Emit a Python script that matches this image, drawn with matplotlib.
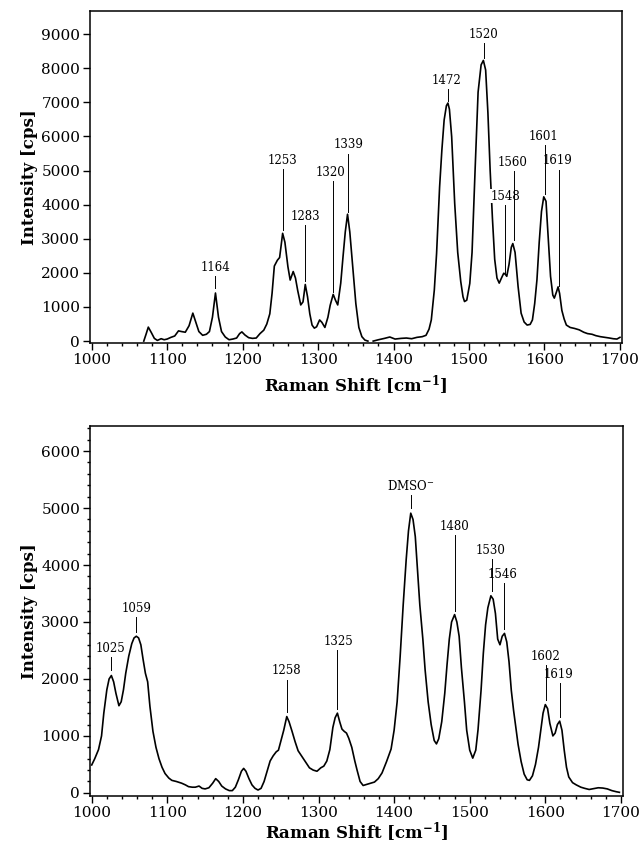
#!/usr/bin/env python3
"""
Two stacked Raman spectra with labelled peak positions.
"""
import matplotlib
matplotlib.use('Agg')
import matplotlib.pyplot as plt
from matplotlib.ticker import MultipleLocator

# --- top spectrum (two segments, gap near 1370 cm-1) ---
top_x1 = [1069, 1072, 1075, 1079, 1083, 1087, 1092, 1096, 1100, 1105, 1110, 1115,
          1119, 1124, 1129, 1134, 1138, 1142, 1147, 1152, 1156, 1160, 1164, 1168,
          1172, 1177, 1182, 1187, 1192, 1196, 1199, 1203, 1208, 1213, 1218, 1223,
          1228, 1232, 1236, 1239, 1242, 1246, 1249, 1251, 1253, 1256, 1260, 1263,
          1267, 1270, 1273, 1277, 1280, 1283, 1286, 1289, 1292, 1295, 1298, 1302,
          1305, 1309, 1313, 1316, 1320, 1323, 1326, 1330, 1333, 1336, 1339, 1342,
          1346, 1350, 1354, 1358, 1362, 1366]
top_y1 = [0, 200, 410, 250, 80, 20, 70, 40, 60, 110, 150, 300,
          280, 260, 450, 820, 550, 280, 170, 200, 280, 700, 1410, 700,
          280, 120, 40, 60, 90, 220, 270, 180, 100, 80, 90, 220,
          320, 500, 800, 1400, 2200, 2370, 2450, 2800, 3160, 2900, 2180, 1790,
          2040, 1850, 1480, 1060, 1150, 1660, 1300, 800, 470, 380, 420, 620,
          550, 400, 700, 1050, 1370, 1200, 1060, 1700, 2470, 3200, 3720, 3200,
          2150, 1100, 400, 130, 30, 0]

top_x2 = [1373, 1380, 1388, 1395, 1402, 1410, 1417, 1424, 1431, 1438, 1443, 1447,
          1450, 1454, 1457, 1461, 1464, 1467, 1470, 1472, 1474, 1477, 1481, 1485,
          1489, 1492, 1494, 1497, 1501, 1504, 1508, 1512, 1516, 1519, 1522, 1525,
          1528, 1531, 1534, 1537, 1540, 1543, 1546, 1548, 1550, 1553, 1556, 1558,
          1561, 1565, 1569, 1573, 1577, 1581, 1584, 1587, 1590, 1593, 1596, 1599,
          1602, 1605, 1608, 1611, 1613, 1616, 1618, 1620, 1623, 1626, 1629, 1634,
          1640, 1646, 1652, 1657, 1663, 1668, 1674, 1680, 1686, 1691, 1696, 1700]
top_y2 = [0, 40, 80, 120, 60, 80, 90, 70, 110, 130, 170, 350,
          620, 1500, 2570, 4520, 5600, 6480, 6900, 6980, 6800, 5990, 4040, 2600,
          1750, 1300, 1160, 1200, 1690, 2600, 5000, 7300, 8100, 8230, 7950, 6700,
          5000, 3600, 2400, 1850, 1700, 1850, 1990, 1960, 1900, 2250, 2750, 2860,
          2600, 1600, 820, 560, 470, 490, 620, 1100, 1800, 2900, 3800, 4230,
          4100, 3000, 1900, 1350, 1260, 1450, 1590, 1400, 900, 650, 470, 400,
          370, 330, 260, 220, 200, 160, 130, 110, 90, 70, 60, 110]

# --- bottom spectrum ---
bot_x = [1000, 1004, 1009, 1013, 1016, 1020, 1023, 1026, 1029, 1032, 1036, 1039,
         1042, 1045, 1049, 1053, 1056, 1059, 1062, 1065, 1068, 1071, 1074, 1077,
         1081, 1085, 1089, 1093, 1097, 1102, 1106, 1112, 1119, 1124, 1128, 1133,
         1137, 1142, 1146, 1150, 1155, 1160, 1164, 1168, 1172, 1177, 1182, 1186,
         1190, 1194, 1198, 1201, 1204, 1208, 1212, 1216, 1220, 1224, 1228, 1232,
         1236, 1240, 1244, 1247, 1250, 1254, 1258, 1261, 1265, 1269, 1273, 1278,
         1283, 1288, 1293, 1298, 1303, 1307, 1311, 1315, 1319, 1322, 1325, 1328,
         1331, 1334, 1337, 1340, 1344, 1348, 1351, 1355, 1359, 1364, 1369, 1374,
         1379, 1384, 1390, 1396, 1400, 1404, 1408, 1412, 1416, 1419, 1422, 1425,
         1428, 1431, 1434, 1438, 1441, 1445, 1449, 1453, 1456, 1459, 1463, 1467,
         1470, 1473, 1476, 1480, 1483, 1486, 1489, 1493, 1496, 1500, 1504, 1508,
         1511, 1515, 1518, 1521, 1524, 1528, 1531, 1534, 1537, 1540, 1543, 1546,
         1549, 1552, 1555, 1558, 1561, 1564, 1568, 1572, 1576, 1579, 1583, 1587,
         1591, 1594, 1597, 1600, 1603, 1606, 1610, 1613, 1616, 1619, 1622, 1625,
         1628, 1631, 1636, 1641, 1647, 1652, 1658, 1664, 1670, 1676, 1682, 1688,
         1694, 1698]
bot_y = [490, 600, 760, 1000, 1400, 1810, 2000, 2060, 1950, 1750, 1530, 1600,
         1810, 2100, 2400, 2620, 2720, 2750, 2720, 2600, 2340, 2100, 1950, 1520,
         1080, 800, 600, 450, 340, 260, 220, 200, 170, 140, 110, 100,
         100, 120, 80, 70, 90, 170, 250, 200, 120, 70, 40, 40,
         100, 230, 380, 430, 380, 250, 140, 80, 50, 80, 200, 380,
         560, 650, 720, 750, 900, 1100, 1340, 1250, 1080, 900, 740, 640,
         540, 440, 400, 380, 440, 470, 560, 760, 1150, 1320, 1400, 1250,
         1120, 1080, 1050, 960, 800, 560, 400, 200, 130, 150, 170, 190,
         250, 350, 550, 770, 1100, 1600, 2400, 3300, 4100, 4600, 4910, 4800,
         4500, 3900, 3300, 2700, 2160, 1600, 1200, 920, 860, 950, 1250, 1750,
         2250, 2700, 3000, 3130, 3000, 2750, 2200, 1600, 1100, 750, 610, 750,
         1110, 1800, 2450, 2950, 3250, 3460, 3400, 3150, 2700, 2600, 2750, 2800,
         2650, 2300, 1800, 1450, 1150, 850, 550, 330, 230, 220, 300, 500,
         800, 1100, 1400, 1550, 1480, 1220, 1000, 1050, 1200, 1260, 1100, 750,
         450, 280, 180, 140, 100, 80, 60, 75, 90, 85, 70, 40,
         20, 10]

# --- peak labels: text, line x, line bottom, line top, text x ---
top_labels = ['1164', '1253', '1283', '1320', '1339', '1472', '1520',
              '1548', '1560', '1601', '1619']
top_line_x = [1164, 1253, 1283, 1320, 1339, 1472, 1520, 1548, 1560, 1601, 1619]
top_line_lo = [1550, 3250, 1750, 1450, 3800, 7050, 8300, 2000, 2950, 4300, 1620]
top_line_hi = [1900, 5050, 3400, 4700, 5500, 7380, 8740, 4000, 4990, 5760, 5030]
top_text_x = [1164, 1253, 1283, 1316, 1340, 1470, 1519, 1548, 1558, 1599, 1617]

bot_labels = ['1025', '1059', '1258', '1325', r'DMSO$^{-}$', '1480', '1530',
              '1546', '1602', '1619']
bot_line_x = [1025, 1059, 1258, 1325, 1422, 1480, 1529, 1546, 1601, 1619]
bot_line_lo = [2150, 2830, 1420, 1470, 5000, 3200, 3540, 2880, 1630, 1340]
bot_line_hi = [2380, 3080, 1990, 2500, 5230, 4520, 4110, 3680, 2250, 1930]
bot_text_x = [1025, 1059, 1258, 1326, 1422, 1480, 1528, 1544, 1600, 1618]

X_LIM = (997.7, 1702.7)


def style_axes(ax, ymax, y_minor=None, xlabelpad=0):
    ax.set_xlim(*X_LIM)
    ax.set_ylim(-55, ymax)
    ax.xaxis.set_major_locator(MultipleLocator(100))
    ax.xaxis.set_minor_locator(MultipleLocator(20))
    ax.yaxis.set_major_locator(MultipleLocator(1000))
    if y_minor:
        ax.yaxis.set_minor_locator(MultipleLocator(y_minor))
    ax.tick_params(which='both', direction='out', top=False, right=False,
                   width=1.0, labelsize=11, pad=2)
    ax.tick_params(which='major', length=5)
    ax.tick_params(which='minor', length=2.5)
    for sp in ax.spines.values():
        sp.set_linewidth(1.1)
    ax.set_xlabel(r'Raman Shift [cm$^{\mathbf{-1}}$]', fontsize=12,
                  fontweight='bold', labelpad=xlabelpad)
    ax.set_ylabel('Intensity [cps]', fontsize=12, fontweight='bold', labelpad=2)


def add_labels(ax, labels, lx, lo, hi, tx):
    for lab, x, y0, y1, xt in zip(labels, lx, lo, hi, tx):
        ax.plot([x, x], [y0, y1], color='black', linewidth=0.7, zorder=4)
        ax.annotate(lab, xy=(xt, y1), xytext=(0, 1.5), textcoords='offset points',
                    ha='center', va='bottom', fontsize=8.5, zorder=3,
                    bbox=dict(boxstyle='square,pad=0.05', fc='white', ec='none'))


def main():
    plt.rcParams['font.family'] = ['DejaVu Serif']
    plt.rcParams['mathtext.fontset'] = 'dejavuserif'

    fig = plt.figure(figsize=(6.39, 8.5), dpi=100)
    ax1 = fig.add_axes([0.1408, 0.5965, 0.8326, 0.3906])
    ax2 = fig.add_axes([0.1408, 0.0635, 0.8341, 0.4353])

    ax1.plot(top_x1, top_y1, color='black', linewidth=1.2, zorder=2)
    ax1.plot(top_x2, top_y2, color='black', linewidth=1.2, zorder=2)
    style_axes(ax1, 9680, xlabelpad=5)
    add_labels(ax1, top_labels, top_line_x, top_line_lo, top_line_hi, top_text_x)

    ax2.plot(bot_x, bot_y, color='black', linewidth=1.2, zorder=2)
    style_axes(ax2, 6440, y_minor=200, xlabelpad=0)
    add_labels(ax2, bot_labels, bot_line_x, bot_line_lo, bot_line_hi, bot_text_x)

    fig.savefig('out.png', dpi=100)


if __name__ == '__main__':
    main()
